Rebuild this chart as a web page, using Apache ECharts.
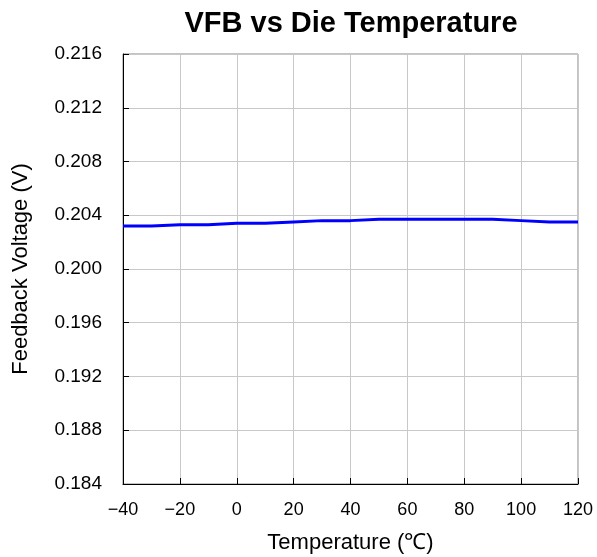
<!DOCTYPE html>
<html>
<head>
<meta charset="utf-8">
<script src="https://cdn.jsdelivr.net/npm/echarts@6/dist/echarts.min.js"></script>
<style>html,body{margin:0;padding:0;background:#fff;}#c{width:597px;height:557px;}</style>
</head>
<body>
<div id="c"></div>
<script>
const temperatures = [-40, -30, -20, -10, 0, 10, 20, 30, 40, 50, 60, 70, 80, 90, 100, 110, 120];
const vfb = [0.2032, 0.2032, 0.2033, 0.2033, 0.2034, 0.2034, 0.2035, 0.2036, 0.2036, 0.2037, 0.2037, 0.2037, 0.2037, 0.2037, 0.2036, 0.2035, 0.2035];
const titleText = 'VFB vs Die Temperature';
const xName = 'Temperature (℃)';
const yName = 'Feedback Voltage (V)';

const font = '"Liberation Sans", Arial, Helvetica, sans-serif';
const chart = echarts.init(document.getElementById('c'), null, {renderer: 'canvas'});
chart.setOption({
  animation: false,
  backgroundColor: '#fff',
  title: {
    text: titleText,
    left: 346, textAlign: 'center', top: 4,
    textStyle: {fontFamily: font, fontSize: 29, fontWeight: 'bold', color: '#000'}
  },
  grid: {left: 123, right: 19, top: 54, bottom: 73, outerBoundsMode: 'none', containLabel: false, show: true, borderColor: '#888', borderWidth: 1, backgroundColor: 'transparent'},
  xAxis: {
    type: 'value', min: -40, max: 120, interval: 20,
    name: xName, nameLocation: 'middle', nameGap: 48,
    nameTextStyle: {fontFamily: font, fontSize: 22, color: '#000'},
    axisLine: {onZero: false, lineStyle: {color: '#000', width: 1}},
    axisTick: {inside: true, length: 6, lineStyle: {color: '#000'}},
    axisLabel: {fontFamily: font, fontSize: 18, color: '#000', margin: 17, formatter: v => String(v).replace('-', '\u2212')},
    splitLine: {show: true, lineStyle: {color: '#c8c8c8', width: 1}}
  },
  yAxis: {
    type: 'value', min: 0.184, max: 0.216, interval: 0.004,
    name: yName, nameLocation: 'middle', nameGap: 91,
    nameTextStyle: {fontFamily: font, fontSize: 22, color: '#000'},
    axisLine: {show: true, onZero: false, lineStyle: {color: '#000', width: 1}},
    axisTick: {show: true, inside: true, length: 6, lineStyle: {color: '#000'}},
    axisLabel: {fontFamily: font, fontSize: 19, color: '#000', margin: 21, formatter: v => v.toFixed(3)},
    splitLine: {show: true, lineStyle: {color: '#c8c8c8', width: 1}}
  },
  series: [{
    type: 'line',
    data: temperatures.map((t, i) => [t, vfb[i]]),
    showSymbol: false,
    lineStyle: {color: '#0000ff', width: 3},
    itemStyle: {color: '#0000ff'}
  }]
});
</script>
</body>
</html>
